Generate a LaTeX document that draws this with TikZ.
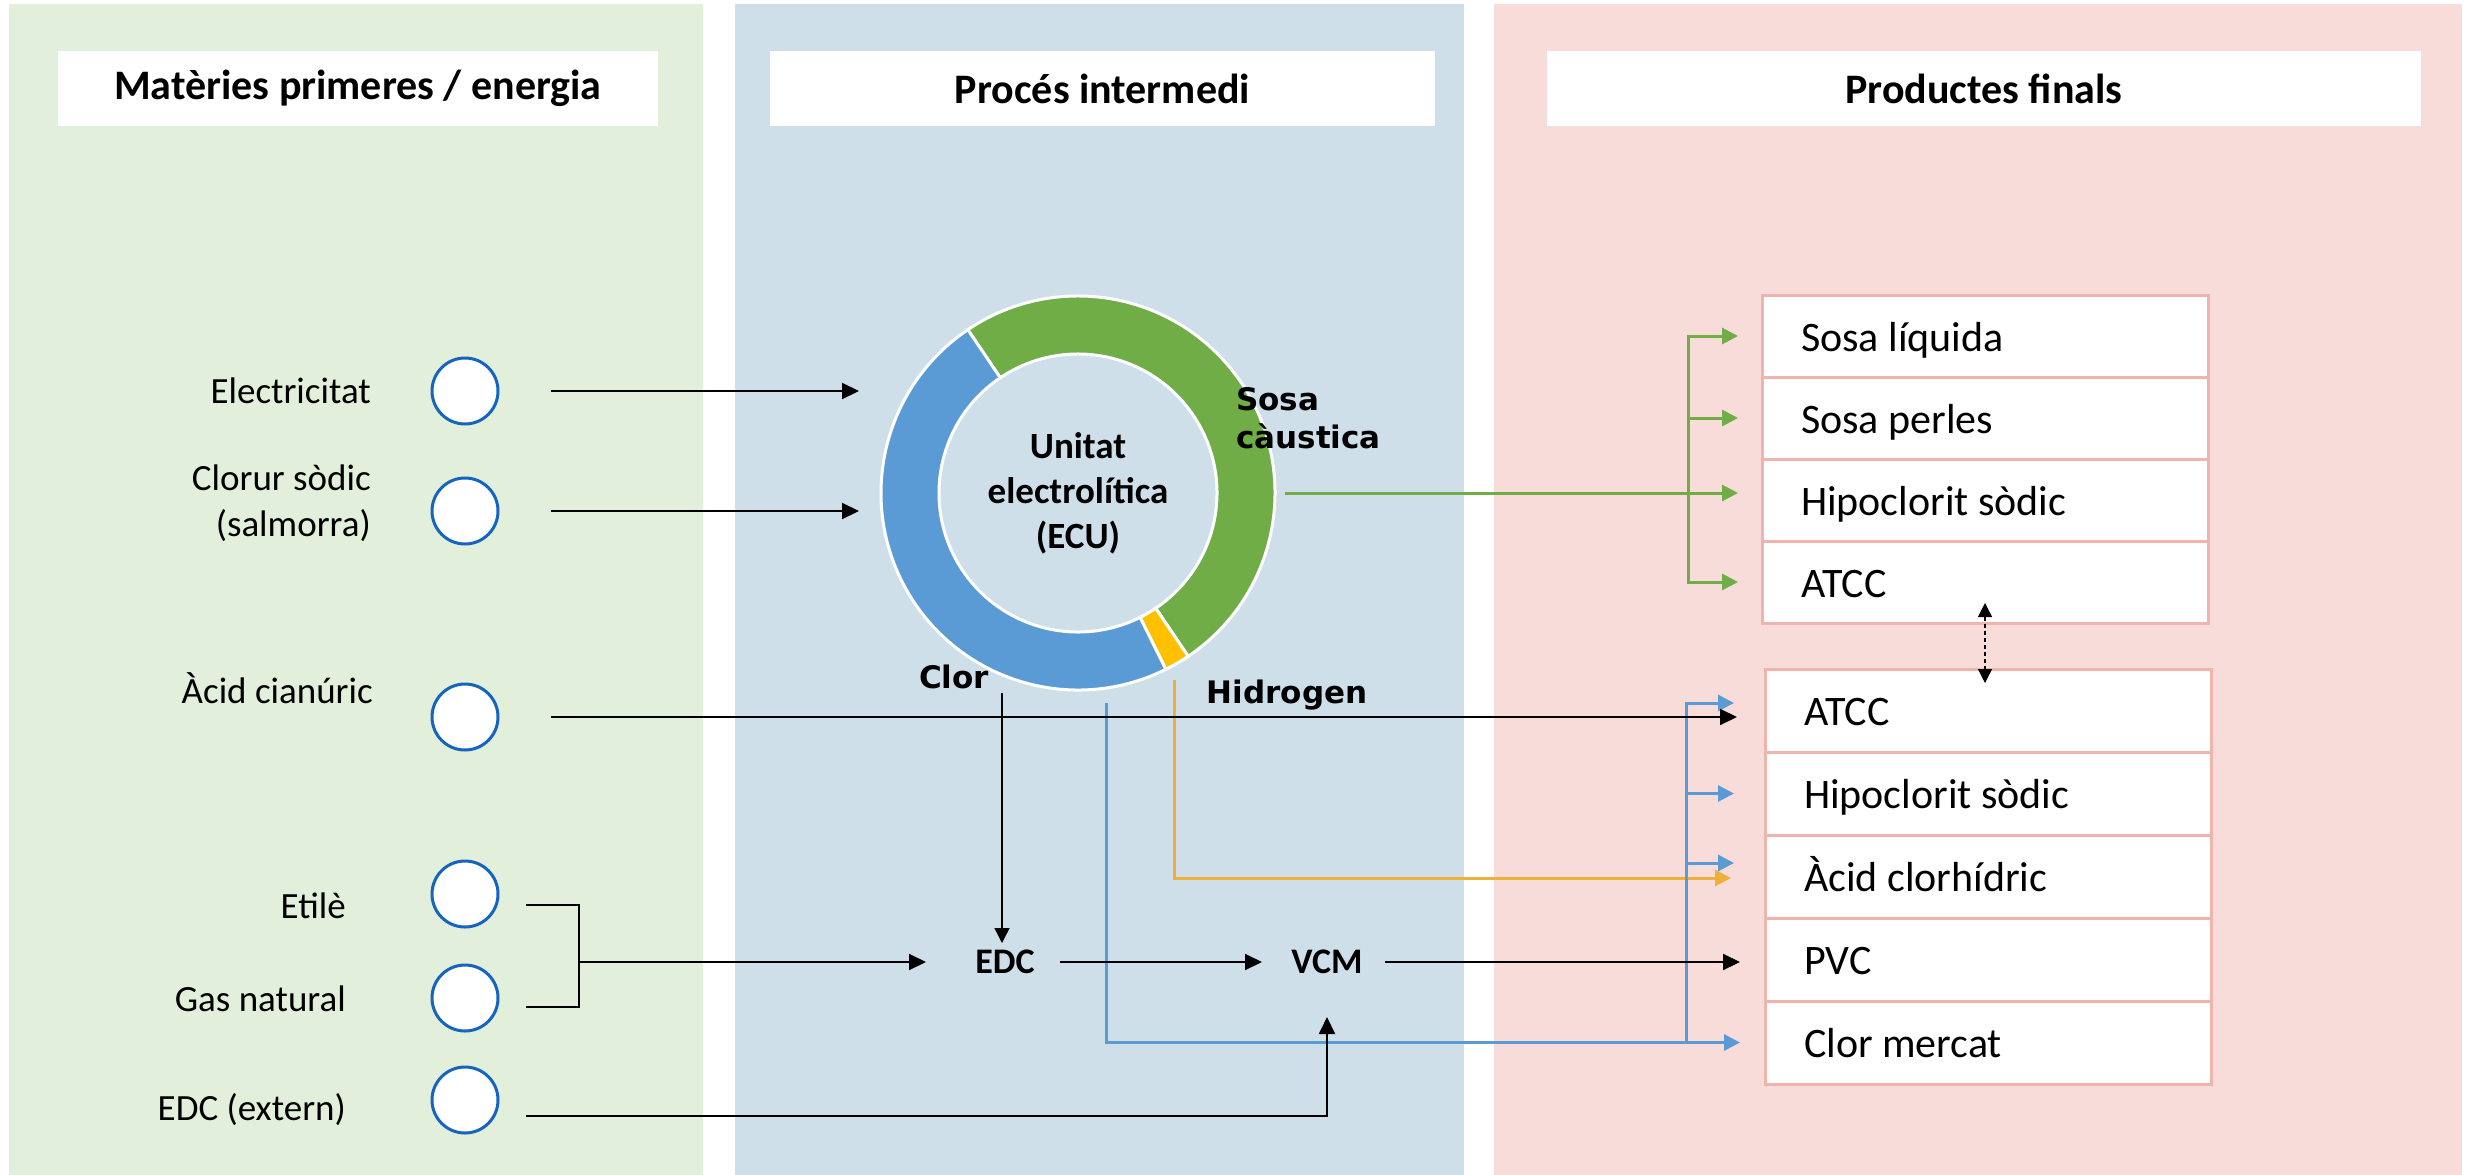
\documentclass[tikz,border=0pt]{standalone}
\usepackage{fontspec}
\setmainfont{Carlito}
\newfontfamily\chartfont{DejaVu Sans}
\usepackage{tikz}
\usetikzlibrary{arrows.meta}
\usetikzlibrary{shapes,calc,positioning}

\definecolor{panelgreen}{RGB}{226,239,218}
\definecolor{panelblue}{RGB}{207,223,233}
\definecolor{panelpink}{RGB}{247,220,218}
\definecolor{srcblue}{RGB}{21,101,192}
\definecolor{sodagreen}{RGB}{112,173,71}
\definecolor{clblue}{RGB}{91,155,213}
\definecolor{h2yellow}{RGB}{255,192,0}
\definecolor{h2orange}{RGB}{238,176,56}
\definecolor{rowline}{RGB}{241,180,172}

\tikzset{
	head/.style={fill=white, minimum height=75pt, inner sep=0pt, font=\fontsize{42}{50}\selectfont\bfseries},
	src/.style={circle, draw=srcblue, line width=3pt, fill=white, minimum size=66pt, inner sep=0pt, outer sep=0pt},
	lbl/.style={inner sep=0pt, align=right, font=\fontsize{37}{46}\selectfont},
	prod/.style={rectangle, draw=rowline, line width=3pt, fill=white, minimum height=82pt, text width=368pt, inner xsep=39pt, inner ysep=0pt, outer sep=0pt, align=flush left, text height=30pt, text depth=0pt, font=\fontsize{42}{50}\selectfont},
	mid/.style={inner sep=0pt, font=\fontsize{36}{44}\selectfont\bfseries},
	tag/.style={inner sep=0pt, align=left, font=\fontsize{31}{38}\selectfont\chartfont\bfseries},
	flow/.style={draw=black, line width=2pt, -{Triangle[length=17pt,width=16pt]}},
	feed/.style={draw=black, line width=1.3pt, -{Triangle[length=15pt,width=15pt]}},
	soda/.style={draw=sodagreen, line width=3pt, -{Triangle[length=16pt,width=16pt]}},
	chlor/.style={draw=clblue, line width=3pt, -{Triangle[length=16pt,width=16pt]}},
	hydro/.style={draw=h2orange, line width=3pt, -{Triangle[length=16pt,width=16pt]}},
	link/.style={draw=black, line width=1.2pt, dash pattern=on 4pt off 3pt, {Triangle[length=14pt,width=14pt]}-{Triangle[length=14pt,width=14pt]}}
}

\begin{document}
\begin{tikzpicture}[x=1pt,y=-1pt]
	\useasboundingbox (0,0) rectangle (2468,1175);
	% Background panels
	\fill[panelgreen] (9,4) rectangle (703,1175);
	\fill[panelblue] (735,4) rectangle (1464,1175);
	\fill[panelpink] (1494,4) rectangle (2462,1175);
	% Define nodes
	\node[head, minimum width=600pt] (h1) at (358,88.5) {Matèries primeres / energia}; %
	\node[head, minimum width=665pt] (h2) at (1102.5,88.5) {Procés intermedi}; %
	\node[head, minimum width=874pt] (h3) at (1984,88.5) {Productes finals}; %
	\node[src] (el) at (465,391) {}; %
	\node[src] (na) at (465,511) {}; %
	\node[src] (ac) at (465,717) {}; %
	\node[src] (et) at (465,894) {}; %
	\node[src] (gn) at (465,998) {}; %
	\node[src] (ex) at (465,1100) {}; %
	\node[lbl, left=61pt of el] (lel) {Electricitat}; %
	\node[lbl, left=61pt of na, yshift=8pt] (lna) {Clorur sòdic\\(salmorra)}; %
	\node[lbl, left=59pt of ac, yshift=29pt] (lac) {Àcid cianúric}; %
	\node[lbl, left=86pt of et, yshift=-12pt] (let) {Etilè}; %
	\node[lbl, left=86pt of gn, yshift=-1pt] (lgn) {Gas natural}; %
	\node[lbl, left=86pt of ex, yshift=-10pt] (lex) {EDC (extern)}; %
	\node[circle, minimum size=394pt, inner sep=0pt, outer sep=0pt, align=center, font=\fontsize{37}{45}\selectfont\bfseries] (ecu) at (1078,493) {Unitat\\electrolítica\\(ECU)}; %
	\begin{scope}[shift={(ecu.center)}, y=1pt]
		\foreach \a/\b/\c in {124/-56/sodagreen, -56/-63.5/h2yellow, -63.5/-236/clblue}
			\filldraw[fill=\c, draw=white, line width=3pt] (\a:197) arc[start angle=\a, end angle=\b, radius=197] -- (\b:139) arc[start angle=\b, end angle=\a, radius=139] -- cycle;
	\end{scope}
	\node[tag, anchor=west] (tsosa) at (1236,418) {Sosa\\càustica}; %
	\node[tag, anchor=base] (tclor) at (954,688) {Clor}; %
	\node[tag, anchor=base] (th2) at (1287,703) {Hidrogen}; %
	\node[mid] (edc) at (1005,962) {EDC}; %
	\node[mid] (vcm) at (1327,962) {VCM}; %
	\node[prod] (s1) at (1985,336) {Sosa líquida}; %
	\node[prod, below=0pt of s1] (s2) {Sosa perles}; %
	\node[prod, below=0pt of s2] (s3) {Hipoclorit sòdic}; %
	\node[prod, below=0pt of s3] (s4) {ATCC}; %
	\node[prod, minimum height=83pt] (f1) at (1988,710.5) {ATCC}; %
	\node[prod, minimum height=83pt, below=0pt of f1] (f2) {Hipoclorit sòdic}; %
	\node[prod, minimum height=83pt, below=0pt of f2] (f3) {Àcid clorhídric}; %
	\node[prod, minimum height=83pt, below=0pt of f3] (f4) {PVC}; %
	\node[prod, minimum height=83pt, below=0pt of f4] (f5) {Clor mercat}; %
	\coordinate (sj) at (1688,0);
	\coordinate (cj) at (1686,0);
	\coordinate (co) at (1106,703);
	\coordinate (ho) at (1174,680);
	\coordinate (cd) at (1002,693);
	\coordinate (mx) at (579,962);
	%%add edge
	\draw[hydro, shorten >=34pt] (ho) |- ($(f3.west)+(0,1.5)$);
	\draw[chlor, shorten >=25pt] (co) |- (f5.west);
	\draw[chlor, shorten >=31pt] (cj |- f5) |- ($(f1.west)+(0,-7.5)$);
	\draw[chlor, shorten >=31pt] (cj |- f2) -- (f2.west);
	\draw[chlor, shorten >=31pt] ($(cj |- f3)+(0,-13.5)$) -- ($(f3.west)+(0,-13.5)$);
	\draw[soda, shorten <=10pt, shorten >=24pt] (ecu.east) -- (ecu.east -| s3.west);
	\draw[soda, shorten >=24pt] (sj |- s3) |- (s1.west);
	\draw[soda, shorten >=24pt] (sj |- s2) -- (s2.west);
	\draw[soda, shorten >=24pt] (sj |- s3) |- (s4.west);
	\draw[flow, shorten <=53pt, shorten >=22pt] (el.east) -- (el -| ecu.west);
	\draw[flow, shorten <=53pt, shorten >=22pt] (na.east) -- (na -| ecu.west);
	\draw[feed, shorten >=19pt] (cd) -- (cd |- edc.center);
	\draw[line width=2pt] ([xshift=28pt,yshift=-11pt]et.east) -| (mx) |- ([xshift=28pt,yshift=-8.5pt]gn.east);
	\draw[flow, shorten >=79pt] (mx) -- (edc.center);
	\draw[flow, shorten <=55pt, shorten >=65pt] (edc.center) -- (vcm.center);
	\draw[flow, shorten <=58pt, shorten >=25pt] (vcm.center) -- (vcm -| f4.west);
	\draw[flow, shorten >=55pt] ([xshift=28pt,yshift=-16pt]ex.east) -| (vcm.center);
	\draw[flow, shorten <=53pt, shorten >=28pt] (ac.east) -- (ac -| f1.west);
	\draw[link, shorten <=-20pt, shorten >=-14pt] (s4.south) -- (s4.south |- f1.north);
\end{tikzpicture}
\end{document}
